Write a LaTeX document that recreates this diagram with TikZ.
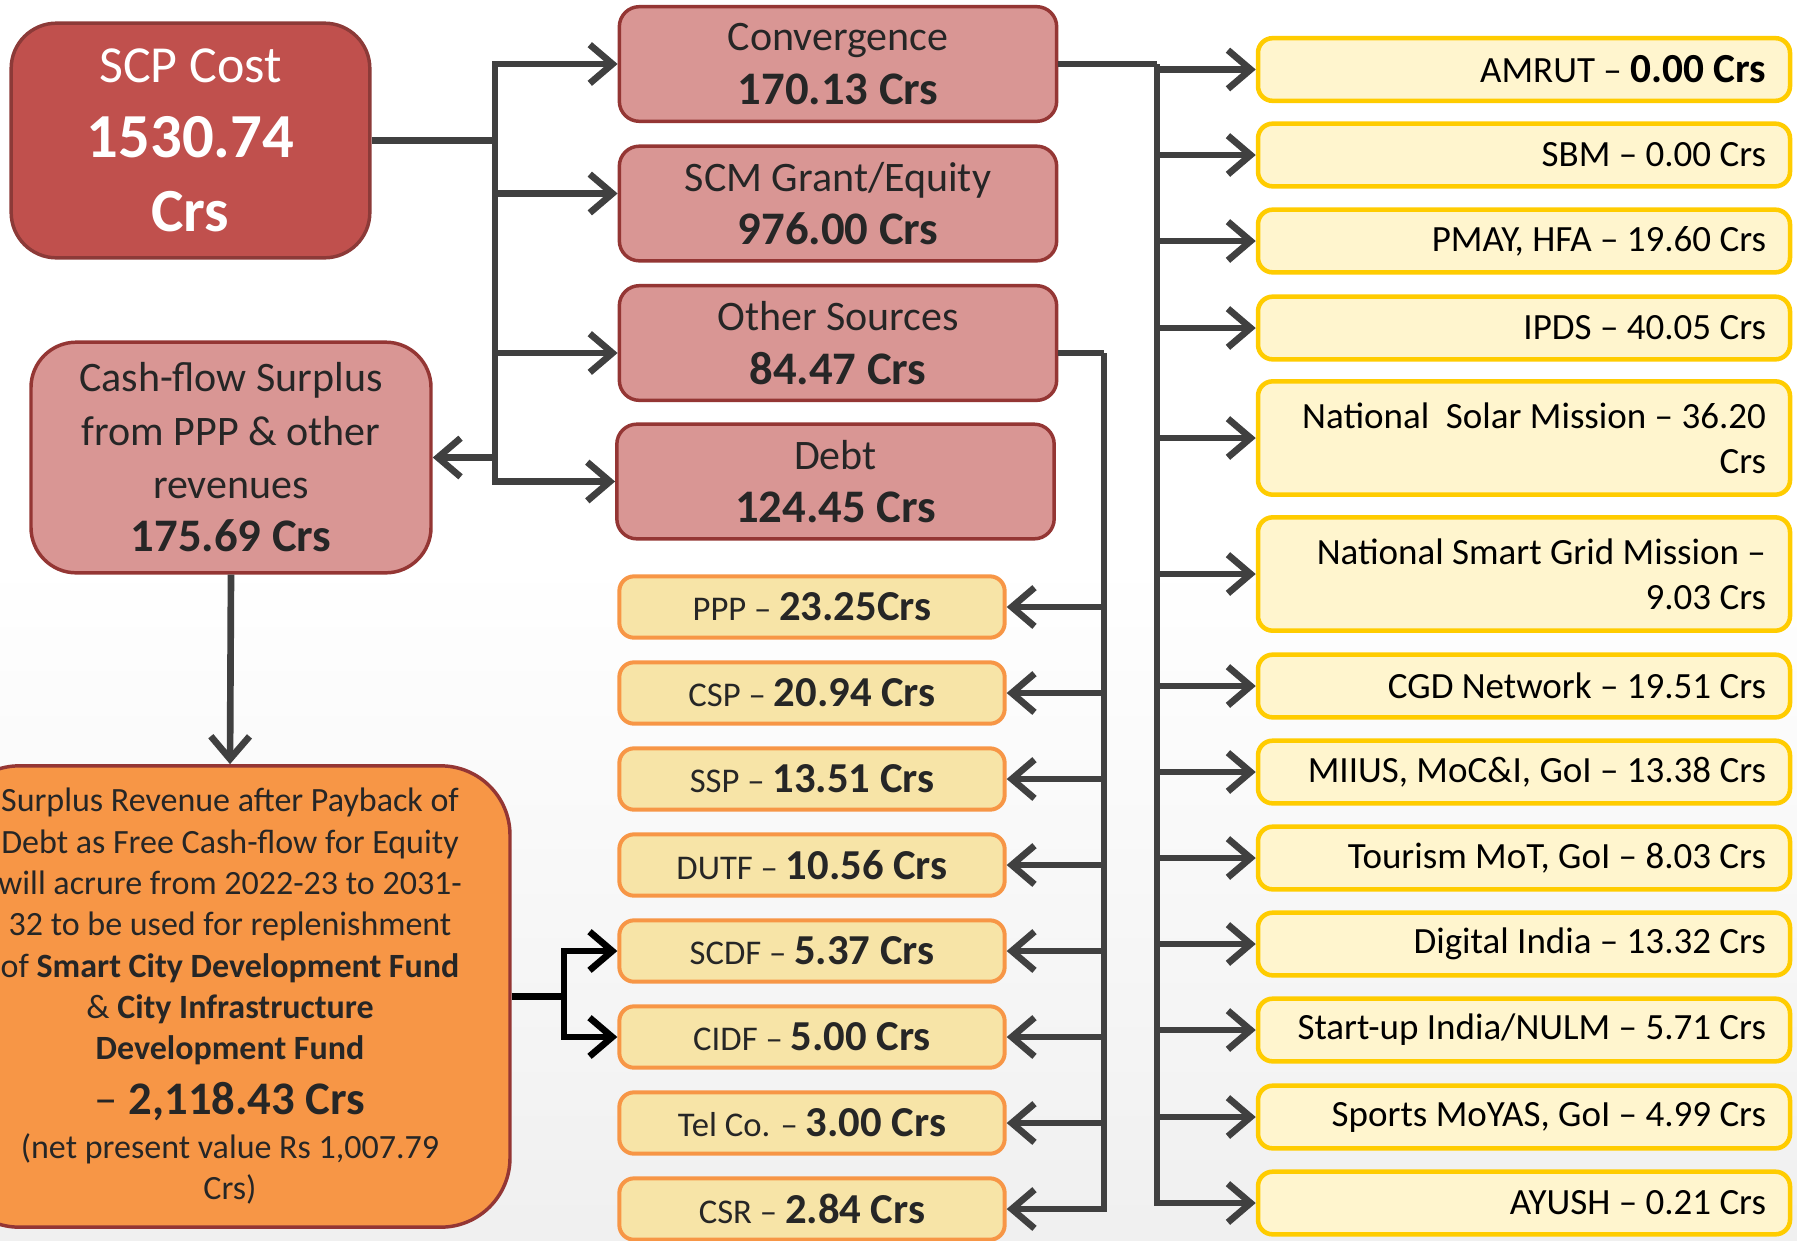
\documentclass[tikz,border=0pt]{standalone}
\usepackage{fontspec}
\setmainfont{Carlito}
\usetikzlibrary{arrows.meta}

\definecolor{scpFill}{HTML}{C0504D}
\definecolor{scpLine}{HTML}{8C3A38}
\definecolor{pinkFill}{HTML}{D99694}
\definecolor{pinkLine}{HTML}{943634}
\definecolor{surpFill}{HTML}{F79646}
\definecolor{midFill}{HTML}{F7E4A7}
\definecolor{midLine}{HTML}{F79646}
\definecolor{yelFill}{HTML}{FFF5CE}
\definecolor{yelLine}{HTML}{FFCC00}
\definecolor{linkGray}{HTML}{404040}
\definecolor{txtDark}{HTML}{262626}

\tikzset{
  link/.style={draw=linkGray, line width=5pt},
  arr/.style={link, -{Straight Barb[length=17pt,width=29pt]}},
  srcbox/.style={draw=pinkLine, fill=pinkFill, line width=2.6pt, rounded corners=15pt,
    minimum width=328pt, minimum height=86pt, align=center, text=txtDark,
    font=\fontsize{31.5}{40}\selectfont},
  midbox/.style={draw=midLine, fill=midFill, line width=3pt, rounded corners=11pt,
    minimum width=289pt, minimum height=46pt, align=center, text=txtDark,
    font=\fontsize{26}{32}\selectfont},
  yelbox/.style={draw=yelLine, fill=yelFill, line width=3.4pt, rounded corners=11pt,
    minimum width=399pt, minimum height=47pt, text width=363pt, align=flush right,
    font=\fontsize{27.75}{33.75}\selectfont},
}
\newcommand{\valB}[1]{{\fontsize{35}{42}\selectfont\bfseries #1}}
\newcommand{\valM}[1]{{\fontsize{32}{38}\selectfont\bfseries #1}}

\begin{document}
\begin{tikzpicture}[x=0.75pt,y=0.75pt,yscale=-1,xscale=1]
\useasboundingbox (0,0) rectangle (1797,1240);
% background
\fill[white] (0,0) rectangle (1797,1240);
\shade[top color=white, bottom color=black!6] (0,560) rectangle (1797,1240);

% SCP cost
\node[draw=scpLine, fill=scpFill, line width=2.6pt, rounded corners=34pt, minimum width=269pt,
  minimum height=176pt, align=center, text=white, font=\fontsize{39}{50}\selectfont]
  (scp) at (190.5,140.5) {SCP Cost\\[6pt]{\fontsize{47}{57}\selectfont\bfseries 1530.74}\\[6pt]{\fontsize{46}{56}\selectfont\bfseries Crs}};

% sources of funds
\node[srcbox] (conv) at (838,64) {Convergence\\\valB{170.13 Crs}};
\node[srcbox] (scm) at (838,203.5) {SCM Grant/Equity\\\valB{976.00 Crs}};
\node[srcbox] (oth) at (838,343) {Other Sources\\\valB{84.47 Crs}};
\node[srcbox] (debt) at (835.5,481.5) {Debt\\\valB{124.45 Crs}};

% cash-flow surplus
\node[srcbox, rounded corners=34pt, minimum width=300pt, minimum height=173pt]
  (cash) at (231,457.5) {Cash-flow Surplus\\from PPP \& other\\revenues\\\valB{175.69 Crs}};

% surplus revenue
\node[draw=pinkLine, fill=surpFill, line width=2.6pt, rounded corners=52pt, minimum width=420pt,
  minimum height=346pt, align=center, text=txtDark, font=\fontsize{25.5}{31}\selectfont]
  (surp) at (230,996.5) {Surplus Revenue after Payback of\\Debt as Free Cash-flow for Equity\\will acrure from 2022-23 to 2031-\\32 to be used for replenishment\\of \textbf{Smart City Development Fund}\\\& \textbf{City Infrastructure}\\\textbf{Development Fund}\\[10pt]{\fontsize{35}{40}\selectfont – \textbf{2,118.43 Crs}}\\[2pt](net present value Rs 1,007.79\\Crs)};

% other sources
\node[midbox] (ppp) at (812,607) {PPP – \valM{23.25Crs}};
\node[midbox] (csp) at (812,693) {CSP – \valM{20.94 Crs}};
\node[midbox] (ssp) at (812,779) {SSP – \valM{13.51 Crs}};
\node[midbox] (dutf) at (812,865) {DUTF – \valM{10.56 Crs}};
\node[midbox] (scdf) at (812,951) {SCDF – \valM{5.37 Crs}};
\node[midbox] (cidf) at (812,1037) {CIDF – \valM{5.00 Crs}};
\node[midbox] (telco) at (812,1123) {Tel Co. – \valM{3.00 Crs}};
\node[midbox] (csr) at (812,1209) {CSR – \valM{2.84 Crs}};

% convergence schemes
\node[yelbox] (amrut) at (1524,69.5) {AMRUT – \textbf{\fontsize{31}{36}\selectfont 0.00 Crs}};
\node[yelbox] (sbm) at (1524,155) {SBM – 0.00 Crs};
\node[yelbox] (pmay) at (1524,241) {PMAY, HFA – 19.60 Crs};
\node[yelbox] (ipds) at (1524,328) {IPDS – 40.05 Crs};
\node[yelbox, minimum height=85pt] (solar) at (1524,438) {National~ Solar Mission – 36.20\\Crs};
\node[yelbox, minimum height=85pt] (grid) at (1524,574) {National Smart Grid Mission –\\9.03 Crs};
\node[yelbox] (cgd) at (1524,686) {CGD Network – 19.51 Crs};
\node[yelbox] (miius) at (1524,772) {MIIUS, MoC\&I, GoI – 13.38 Crs};
\node[yelbox] (tour) at (1524,858) {Tourism MoT, GoI – 8.03 Crs};
\node[yelbox] (digi) at (1524,944) {Digital India – 13.32 Crs};
\node[yelbox] (start) at (1524,1030) {Start-up India/NULM – 5.71 Crs};
\node[yelbox] (sport) at (1524,1117) {Sports MoYAS, GoI – 4.99 Crs};
\node[yelbox] (ayush) at (1524,1203) {AYUSH – 0.21 Crs};

% hubs
\coordinate (hubA) at (495,140.5);
\coordinate (hubB) at (1157,64);
\coordinate (hubC) at (1104,353);
\coordinate (hubD) at (564,996.5);

% connectors
\draw[link] (scp.east) -- (hubA);
\draw[arr] (hubA) |- (conv.west);
\draw[arr] (hubA) |- ([yshift=-7.5pt]scm.west);
\draw[arr] (hubA) |- ([yshift=7.5pt]oth.west);
\draw[arr] (hubA) |- (debt.west);
\draw[arr] (hubA |- cash.east) -- (cash.east);
\draw[arr] (cash.south) -- (surp.north);

\draw[link] (conv.east) -- (hubB);
\foreach \n in {amrut,sbm,pmay,ipds,solar,grid,cgd,miius,tour,digi,start,sport,ayush}
  \draw[arr] (hubB) |- (\n.west);

\draw[link] ([yshift=7.5pt]oth.east) -- (hubC);
\foreach \n in {ppp,csp,ssp,dutf,scdf,cidf,telco,csr}
  \draw[arr] (hubC) |- (\n.east);

\draw[link, draw=black] (surp.east) -- (hubD);
\draw[arr, draw=black] (hubD) |- (scdf.west);
\draw[arr, draw=black] (hubD) |- (cidf.west);

\end{tikzpicture}
\end{document}
